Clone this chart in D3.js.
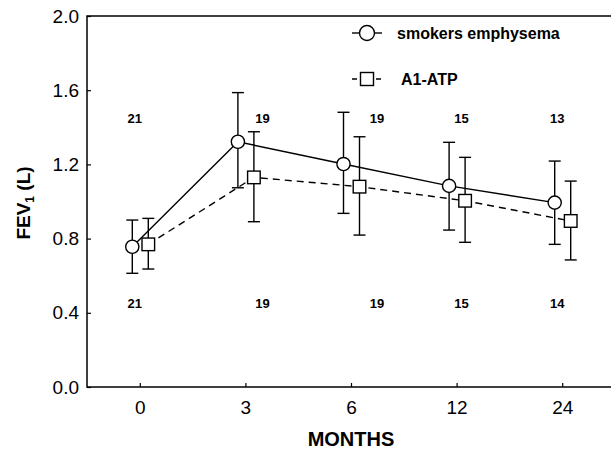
<!DOCTYPE html>
<html>
<head>
<meta charset="utf-8">
<script src="https://cdn.jsdelivr.net/npm/d3@7"></script>
<style>
  body { margin: 0; background: #fff; }
  text { font-family: "Liberation Sans", Arial, sans-serif; fill: #000; }
</style>
</head>
<body>
<div id="chart"></div>
<script>
// data
const months = ["0", "3", "6", "12", "24"];
const smokerMean = [0.756, 1.322, 1.202, 1.084, 0.994];
const smokerLow  = [0.613, 1.074, 0.936, 0.846, 0.769];
const smokerHigh = [0.900, 1.587, 1.481, 1.319, 1.218];
const atpMean = [0.769, 1.130, 1.080, 1.004, 0.895];
const atpLow  = [0.636, 0.891, 0.819, 0.780, 0.685];
const atpHigh = [0.909, 1.376, 1.349, 1.238, 1.110];
const nTop    = [21, 19, 19, 15, 13];
const nBottom = [21, 19, 19, 15, 14];
const yTicks = [0, 0.4, 0.8, 1.2, 1.6, 2.0];

const W = 611, H = 452;
const margin = {top: 16, left: 87, bottom: 65};
const plotBottom = H - margin.bottom; // 387

// small nudges so the n-labels sit where they do in the figure
const nShift = [-5, 17, 26, 5, -5];
const circleOff = -7.5, squareOff = 8.5;

const svg = d3.select("#chart").append("svg")
    .attr("width", W)
    .attr("height", H);

const x = d3.scalePoint()
    .domain(months)
    .range([margin.left, 615])
    .padding(0.5);

const y = d3.scaleLinear()
    .domain([0, 2])
    .range([plotBottom, margin.top]);

// axes (ticks point inward)
const xAxis = d3.axisBottom(x).tickSizeInner(-4).tickSizeOuter(0).tickPadding(14);
const yAxis = d3.axisLeft(y).tickValues(yTicks).tickFormat(d3.format(".1f"))
    .tickSizeInner(-4).tickSizeOuter(0).tickPadding(8);

const gx = svg.append("g")
    .attr("transform", "translate(0," + plotBottom + ")")
    .call(xAxis);
const gy = svg.append("g")
    .attr("transform", "translate(" + margin.left + ",0)")
    .call(yAxis);

[gx, gy].forEach(g => {
    g.select(".domain").remove();
    g.selectAll(".tick line").attr("stroke", "#000").attr("stroke-width", 1.2);
    g.selectAll(".tick text")
        .style("font-family", "'Liberation Sans', Arial, sans-serif")
        .style("font-size", "19px")
        .attr("fill", "#000");
});

// frame
svg.append("rect")
    .attr("x", margin.left)
    .attr("y", margin.top)
    .attr("width", 640)
    .attr("height", plotBottom - margin.top)
    .attr("fill", "none")
    .attr("stroke", "#000")
    .attr("stroke-width", 1.5);

// axis titles
svg.append("text")
    .attr("x", x("6"))
    .attr("y", 446)
    .attr("text-anchor", "middle")
    .style("font-size", "20px")
    .style("font-weight", "bold")
    .text("MONTHS");

const yl = svg.append("text")
    .attr("transform", "translate(30,203) rotate(-90)")
    .attr("text-anchor", "middle")
    .style("font-size", "19px")
    .style("font-weight", "bold");
yl.append("tspan").text("FEV");
yl.append("tspan").attr("dy", 4).style("font-size", "12px").text("1");
yl.append("tspan").attr("dy", -4).text(" (L)");

// lines
const line = d3.line();
const smokerPts = months.map((m, i) => [x(m) + circleOff, y(smokerMean[i])]);
const atpPts = months.map((m, i) => [x(m) + squareOff, y(atpMean[i])]);

svg.append("path")
    .attr("d", line(smokerPts))
    .attr("fill", "none")
    .attr("stroke", "#000")
    .attr("stroke-width", 1.4);

svg.append("path")
    .attr("d", line(atpPts))
    .attr("fill", "none")
    .attr("stroke", "#000")
    .attr("stroke-width", 1.4)
    .attr("stroke-dasharray", "7,5");

// error bars
function errorBars(low, high, off) {
    const g = svg.append("g")
        .attr("stroke", "#000")
        .attr("stroke-width", 1.4);
    months.forEach((m, i) => {
        const cx = x(m) + off;
        g.append("line")
            .attr("x1", cx).attr("x2", cx)
            .attr("y1", y(low[i])).attr("y2", y(high[i]));
        [low[i], high[i]].forEach(v => {
            g.append("line")
                .attr("x1", cx - 6).attr("x2", cx + 6)
                .attr("y1", y(v)).attr("y2", y(v));
        });
    });
}
errorBars(smokerLow, smokerHigh, circleOff);
errorBars(atpLow, atpHigh, squareOff);

// markers
svg.selectAll(".smoker")
    .data(smokerPts)
    .enter().append("circle")
    .attr("class", "smoker")
    .attr("cx", d => d[0])
    .attr("cy", d => d[1])
    .attr("r", 6.6)
    .attr("fill", "#fff")
    .attr("stroke", "#000")
    .attr("stroke-width", 1.4);

svg.selectAll(".atp")
    .data(atpPts)
    .enter().append("rect")
    .attr("class", "atp")
    .attr("x", d => d[0] - 6.3)
    .attr("y", d => d[1] - 6.3)
    .attr("width", 12.6)
    .attr("height", 12.6)
    .attr("fill", "#fff")
    .attr("stroke", "#000")
    .attr("stroke-width", 1.4);

// n labels
function nLabels(vals, level) {
    svg.selectAll(null)
        .data(vals)
        .enter().append("text")
        .attr("x", (d, i) => x(months[i]) + nShift[i])
        .attr("y", y(level))
        .attr("dy", "0.35em")
        .attr("text-anchor", "middle")
        .style("font-size", "13px")
        .style("font-weight", "bold")
        .text(d => d);
}
nLabels(nTop, 1.45);
nLabels(nBottom, 0.45);

// legend
const legend = svg.append("g");
legend.append("line")
    .attr("x1", 352).attr("x2", 382)
    .attr("y1", 33).attr("y2", 33)
    .attr("stroke", "#000").attr("stroke-width", 1.4);
legend.append("circle")
    .attr("cx", 367).attr("cy", 33).attr("r", 7.5)
    .attr("fill", "#fff").attr("stroke", "#000").attr("stroke-width", 1.4);
legend.append("text")
    .attr("x", 397).attr("y", 33).attr("dy", "0.35em")
    .style("font-size", "16px").style("font-weight", "bold")
    .text("smokers emphysema");

legend.append("line")
    .attr("x1", 352).attr("x2", 382)
    .attr("y1", 79).attr("y2", 79)
    .attr("stroke", "#000").attr("stroke-width", 1.4)
    .attr("stroke-dasharray", "5,3");
legend.append("rect")
    .attr("x", 360.5).attr("y", 72.5).attr("width", 13).attr("height", 13)
    .attr("fill", "#fff").attr("stroke", "#000").attr("stroke-width", 1.4);
legend.append("text")
    .attr("x", 401).attr("y", 79).attr("dy", "0.35em")
    .style("font-size", "16px").style("font-weight", "bold")
    .text("A1-ATP");
</script>
</body>
</html>
